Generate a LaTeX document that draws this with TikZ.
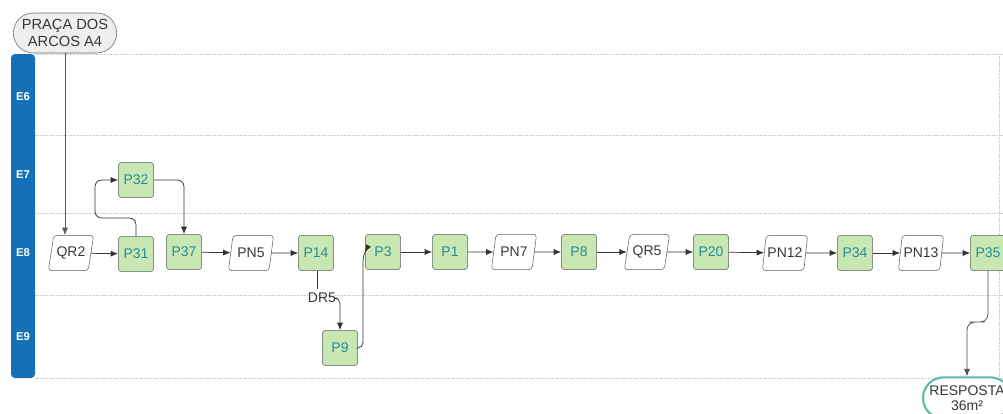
\documentclass[tikz,border=0pt]{standalone}
\usepackage{fontspec}
\setmainfont{Liberation Sans}
\usetikzlibrary{arrows.meta,shapes.geometric,shapes.misc}
\definecolor{laneblue}{RGB}{22,112,184}
\definecolor{stepgreen}{RGB}{201,231,178}
\definecolor{stepedge}{RGB}{90,100,90}
\definecolor{steptext}{RGB}{40,140,150}
\definecolor{inktext}{RGB}{55,55,55}
\definecolor{wire}{RGB}{50,50,50}
\definecolor{endteal}{RGB}{95,185,170}
\definecolor{startfill}{RGB}{238,238,238}
\tikzset{
  stepbox/.style={draw=stepedge, fill=stepgreen, rounded corners=2.5pt,
    minimum width=26.5pt, minimum height=26.5pt, inner sep=0pt,
    text=steptext, font=\fontsize{10.5}{12}\selectfont},
  askbox/.style={draw=gray!75!black, fill=white, trapezium, trapezium left angle=70,
    trapezium right angle=110, trapezium stretches=true, rounded corners=2.5pt,
    minimum width=34pt, minimum height=26.5pt, inner xsep=0pt, inner ysep=0pt,
    text=inktext, font=\fontsize{10.5}{12}\selectfont},
  flow/.style={draw=wire, line width=0.55pt, -{Latex[length=5.5pt,width=4.5pt]}},
  lanesep/.style={draw=gray!45, line width=0.5pt, dash pattern=on 0.6pt off 0.7pt},
  lanelabel/.style={text=white, font=\bfseries\fontsize{8.5}{10}\selectfont},
}
\begin{document}
\begin{tikzpicture}[x=0.75pt, y=-0.75pt]
  \clip (0,0) rectangle (1003,414);
  \fill[white] (0,0) rectangle (1003,414);

  % swimlane separators and frame
  \foreach \yy in {54,135,213,295,378}
    \draw[lanesep] (35,\yy) -- (1003,\yy);
  \draw[lanesep] (999,54) -- (999,378);

  % lane header bar
  \fill[laneblue, rounded corners=3pt] (11,54) rectangle (35,378);
  \node[lanelabel] (e6) at (23,97) {E6};
  \node[lanelabel] (e7) at (23,175) {E7};
  \node[lanelabel] (e8) at (23,253) {E8};
  \node[lanelabel] (e9) at (23,337) {E9};

  % start terminal
  \node[rounded rectangle, draw=gray!80!black, fill=startfill, minimum width=79.5pt,
        minimum height=30pt, inner sep=1pt, align=center, text=inktext,
        font=\fontsize{11}{12.5}\selectfont] (start) at (65,33) {PRAÇA DOS\\ARCOS A4};

  % steps
  \node[askbox]  (qr2)  at (71,253)  {QR2};
  \node[stepbox] (p31)  at (136,254) {P31};
  \node[stepbox] (p32)  at (136,180) {P32};
  \node[stepbox] (p37)  at (184,252) {P37};
  \node[askbox]  (pn5)  at (251,253) {PN5};
  \node[stepbox] (p14)  at (316,253) {P14};
  \node[stepbox] (p9)   at (340,348) {P9};
  \node[stepbox] (p3)   at (383,252) {P3};
  \node[stepbox] (p1)   at (450,252) {P1};
  \node[askbox]  (pn7)  at (514,252) {PN7};
  \node[stepbox] (p8)   at (579,252) {P8};
  \node[askbox]  (qr5)  at (647,252) {QR5};
  \node[stepbox] (p20)  at (711,252) {P20};
  \node[askbox]  (pn12) at (785,253) {PN12};
  \node[stepbox] (p34)  at (855,253) {P34};
  \node[askbox]  (pn13) at (921,253) {PN13};
  \node[stepbox] (p35)  at (988,253) {P35};

  % end terminal
  \node[rounded rectangle, draw=endteal, line width=1.6pt, fill=white,
        minimum width=68pt, minimum height=31pt, inner sep=1pt, align=center,
        text=inktext, font=\fontsize{10.5}{11.5}\selectfont] (resp) at (967,398)
        {RESPOSTA\\36m²};

  % connectors
  \draw[flow, draw=gray!70!black, line width=0.45pt] (start.south) -- (start.south |- qr2.north);
  \draw[flow] (qr2) -- (p31);
  \draw[flow, rounded corners=5pt] (p31.north) |- (95,218) |- (p32.west);
  \draw[flow, rounded corners=5pt] (p32.east) -| (p37.north);
  \draw[flow] (p37) -- (pn5);
  \draw[flow] (pn5) -- (p14);

  \node[text=inktext, font=\fontsize{10.5}{12}\selectfont, inner sep=1pt] (dr5) at (322,298) {DR5};
  \draw[draw=wire, line width=0.55pt] (p14.south -| 317,0) -- (317,289);
  \draw[flow, rounded corners=4pt] (dr5.east) -| (p9.north);

  \draw[flow, rounded corners=4pt] (p9.east) -| (363,256) -- (p3.west);
  \draw[flow] (p3) -- (p1);
  \draw[flow] (p1) -- (pn7);
  \draw[flow] (pn7) -- (p8);
  \draw[flow] (p8) -- (qr5);
  \draw[flow] (qr5) -- (p20);
  \draw[flow] (p20) -- (pn12);
  \draw[flow] (pn12) -- (p34);
  \draw[flow] (p34) -- (pn13);
  \draw[flow] (pn13) -- (p35);
  \draw[flow, draw=gray!60!black, rounded corners=6pt] (p35.south) |- (977,322) -| (resp.north);
\end{tikzpicture}
\end{document}
